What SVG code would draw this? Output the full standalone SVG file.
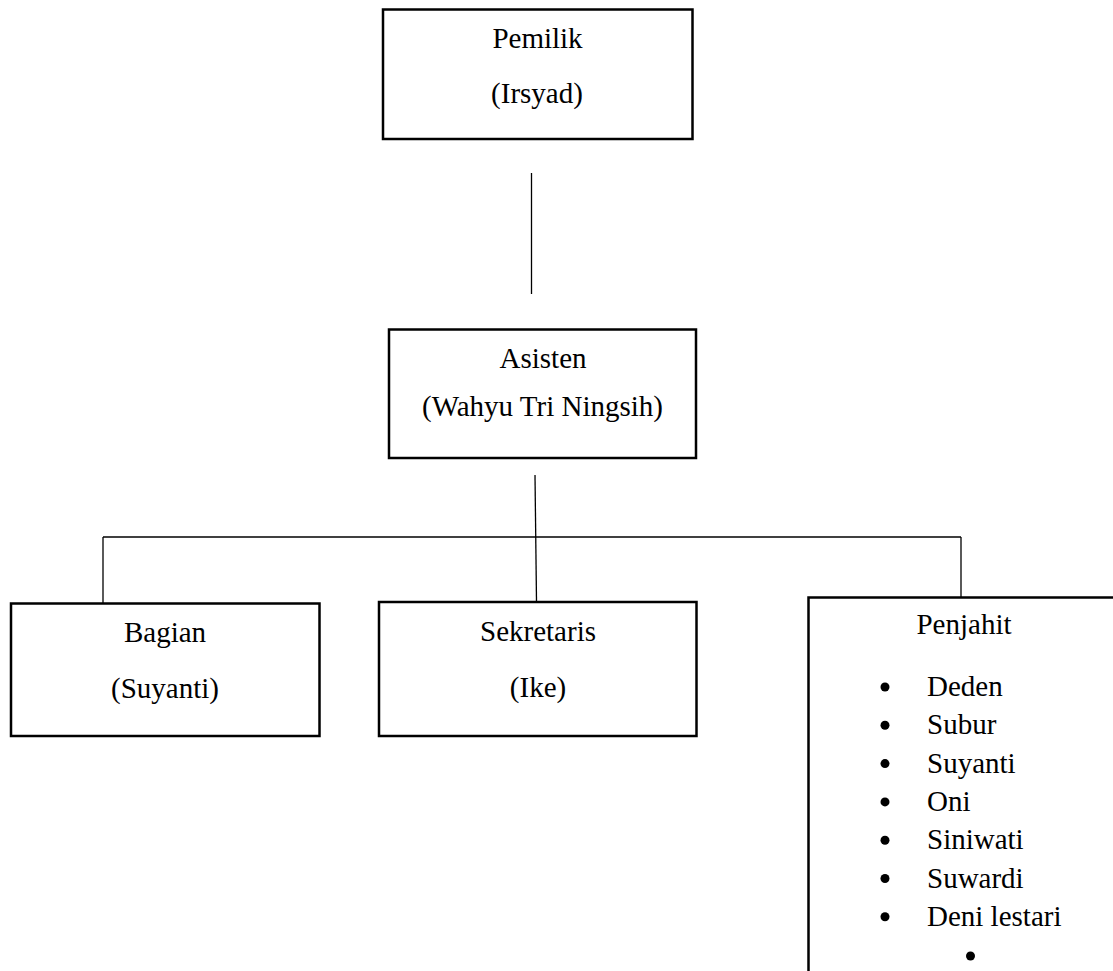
<svg xmlns="http://www.w3.org/2000/svg" width="1113" height="971" viewBox="0 0 1113 971">
<style>
.box{fill:#fff;stroke:#000;stroke-width:2.5}
.t{font-family:"Liberation Serif","Times New Roman",serif;font-size:29px;fill:#000}
.c{text-anchor:middle}
.ln{stroke:#000;stroke-width:1.3;fill:none}
</style>
<rect width="1113" height="971" fill="#fff"/>
<g id="connectors">
<line class="ln" x1="531.5" y1="173" x2="531.5" y2="294"/>
<line class="ln" x1="535" y1="475" x2="536.5" y2="601"/>
<line class="ln" x1="103" y1="537" x2="961" y2="537"/>
<line class="ln" x1="103" y1="537" x2="103" y2="603"/>
<line class="ln" x1="961" y1="537" x2="961" y2="597"/>
</g>
<g id="pemilik">
<rect class="box" x="383" y="9.5" width="309.5" height="129.5"/>
<text class="t c" x="537.5" y="47.5">Pemilik</text>
<text class="t c" x="537" y="103">(Irsyad)</text>
</g>
<g id="asisten">
<rect class="box" x="389" y="329.5" width="307" height="128.5"/>
<text class="t c" x="543" y="368">Asisten</text>
<text class="t c" x="542.5" y="416">(Wahyu Tri Ningsih)</text>
</g>
<g id="bagian">
<rect class="box" x="11" y="603.5" width="308.5" height="132.5"/>
<text class="t c" x="165" y="642">Bagian</text>
<text class="t c" x="165" y="698">(Suyanti)</text>
</g>
<g id="sekretaris">
<rect class="box" x="379" y="602" width="317.5" height="134"/>
<text class="t c" x="538" y="641">Sekretaris</text>
<text class="t c" x="538" y="697">(Ike)</text>
</g>
<g id="penjahit">
<rect class="box" x="808.5" y="597.5" width="320" height="400"/>
<text class="t c" x="964" y="633.5">Penjahit</text>
<g class="t">
<circle cx="885" cy="687" r="4.5"/><text x="927" y="696">Deden</text>
<circle cx="885" cy="725.3" r="4.5"/><text x="927" y="734.3">Subur</text>
<circle cx="885" cy="763.6" r="4.5"/><text x="927" y="772.6">Suyanti</text>
<circle cx="885" cy="801.9" r="4.5"/><text x="927" y="810.9">Oni</text>
<circle cx="885" cy="840.2" r="4.5"/><text x="927" y="849.2">Siniwati</text>
<circle cx="885" cy="878.5" r="4.5"/><text x="927" y="887.5">Suwardi</text>
<circle cx="885" cy="916.8" r="4.5"/><text x="927" y="925.8">Deni lestari</text>
<circle cx="970.5" cy="956" r="4.5"/>
</g>
</g>
</svg>
